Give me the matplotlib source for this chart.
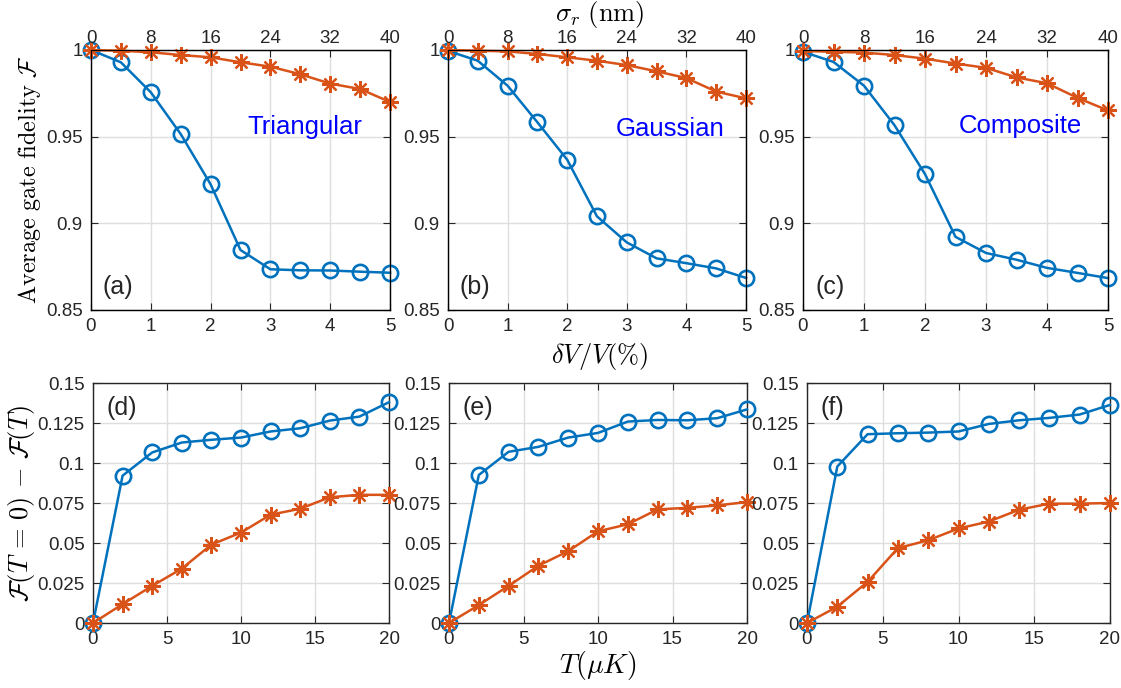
import numpy as np
import matplotlib
matplotlib.use("Agg")
from matplotlib import pyplot as plt

plt.rcParams['font.family'] = ['Liberation Sans', 'DejaVu Sans']
plt.rcParams['mathtext.fontset'] = 'cm'

# data
dV = [0, 0.5, 1, 1.5, 2, 2.5, 3, 3.5, 4, 4.5, 5]
sigma_ticks = [0, 8, 16, 24, 32, 40]
T = [0, 2, 4, 6, 8, 10, 12, 14, 16, 18, 20]

tri_blue = [1.0, 0.9929, 0.9756, 0.9515, 0.9225, 0.8846, 0.8735, 0.8729, 0.8728, 0.8721, 0.8715]
tri_orange = [1.0, 0.9996, 0.9987, 0.9971, 0.9958, 0.9929, 0.9904, 0.9860, 0.9806, 0.9775, 0.9700]
gau_blue = [0.9995, 0.9938, 0.9794, 0.9583, 0.9367, 0.9040, 0.8890, 0.8798, 0.8770, 0.8740, 0.8685]
gau_orange = [1.0, 0.9996, 0.9992, 0.9977, 0.9958, 0.9938, 0.9913, 0.9877, 0.9838, 0.9760, 0.9721]
com_blue = [0.9990, 0.9931, 0.9794, 0.9566, 0.9284, 0.8922, 0.8829, 0.8790, 0.8743, 0.8714, 0.8684]
com_orange = [0.9994, 0.9990, 0.9985, 0.9971, 0.9950, 0.9922, 0.9897, 0.9842, 0.9808, 0.9724, 0.9651]

d_blue = [0.0, 0.0921, 0.1066, 0.1128, 0.1145, 0.1159, 0.1197, 0.1217, 0.1265, 0.1290, 0.1380]
d_orange = [0.0, 0.0118, 0.0232, 0.0340, 0.0490, 0.0565, 0.0677, 0.0714, 0.0786, 0.0801, 0.0801]
e_blue = [0.0, 0.0925, 0.1070, 0.1101, 0.1159, 0.1188, 0.1259, 0.1269, 0.1267, 0.1280, 0.1335]
e_orange = [0.0, 0.0112, 0.0232, 0.0358, 0.0449, 0.0573, 0.0617, 0.0710, 0.0720, 0.0735, 0.0756]
f_blue = [0.0, 0.0978, 0.1180, 0.1186, 0.1190, 0.1197, 0.1244, 0.1267, 0.1282, 0.1303, 0.1363]
f_orange = [0.0, 0.0102, 0.0257, 0.0468, 0.0517, 0.0591, 0.0634, 0.0708, 0.0746, 0.0746, 0.0750]

top_yticks = [0.85, 0.9, 0.95, 1.0]
top_ylabels = ['0.85', '0.9', '0.95', '1']
bot_yticks = [0, 0.025, 0.05, 0.075, 0.1, 0.125, 0.15]
bot_ylabels = ['0', '0.025', '0.05', '0.075', '0.1', '0.125', '0.15']

shapes = ['Triangular', 'Gaussian', 'Composite']
top_tags = ['(a)', '(b)', '(c)']
bot_tags = ['(d)', '(e)', '(f)']

BLUE = '#0072BD'
ORANGE = '#D95319'
DARK = '#262626'

W, H = 1121, 688
fig = plt.figure(figsize=(W / 100, H / 100), dpi=100)


def px_axes(l, r, t, b):
    return fig.add_axes([l / W, (H - b) / H, (r - l) / W, (b - t) / H])


def style(ax):
    ax.grid(True, color='#dedede', linewidth=1.0)
    ax.set_axisbelow(True)
    for s in ax.spines.values():
        s.set_color(DARK)
        s.set_linewidth(1.0)
    ax.tick_params(direction='in', length=5, width=0.8, colors=DARK,
                   labelsize=13.5, top=True, right=True, pad=6)


def draw(ax, x, blue, orange):
    ax.plot(x, blue, '-', color=BLUE, lw=1.8, marker='o', ms=11,
            mfc='none', mec=BLUE, mew=1.9, clip_on=False, zorder=3)
    ax.plot(x, orange, '-', color=ORANGE, lw=1.8, marker=(8, 2, 0), ms=12,
            mec=ORANGE, mew=1.6, clip_on=False, zorder=4)


top_boxes = [(91, 390), (448, 746), (803, 1108)]
bot_boxes = [(93, 389), (449, 747), (807, 1110)]
top_data = [(tri_blue, tri_orange), (gau_blue, gau_orange), (com_blue, com_orange)]
bot_data = [(d_blue, d_orange), (e_blue, e_orange), (f_blue, f_orange)]
label_xy = [(3.58, 0.9556), (3.72, 0.9544), (3.56, 0.956)]

for i in range(3):
    l, r = top_boxes[i]
    ax = px_axes(l, r, 50, 310)
    style(ax)
    draw(ax, dV, *top_data[i])
    ax.set_xlim(0, 5)
    ax.set_ylim(0.85, 1.0)
    ax.set_xticks(range(6))
    ax.set_yticks(top_yticks)
    ax.set_yticklabels(top_ylabels)
    ax.tick_params(top=False)
    ax2 = ax.twiny()
    ax2.set_xlim(0, 40)
    ax2.set_xticks(sigma_ticks)
    ax2.tick_params(direction='in', length=5, width=0.8, colors=DARK,
                    labelsize=13.5, pad=2)
    ax.text(0.2, 0.863, top_tags[i], fontsize=18, color=DARK, va='center')
    ax.text(label_xy[i][0], label_xy[i][1], shapes[i], fontsize=18.5,
            color='#0000FF', ha='center', va='center')
    if i == 0:
        ax.set_ylabel(r'$\mathrm{Average\ gate\ fidelity}\ \mathcal{F}$',
                      fontsize=17.5, labelpad=2)

    l, r = bot_boxes[i]
    bx = px_axes(l, r, 383, 623)
    style(bx)
    draw(bx, T, *bot_data[i])
    bx.set_xlim(0, 20)
    bx.set_ylim(0, 0.15)
    bx.set_xticks([0, 5, 10, 15, 20])
    bx.set_yticks(bot_yticks)
    bx.set_yticklabels(bot_ylabels)
    bx.text(0.9, 0.1344, bot_tags[i], fontsize=18, color=DARK, va='center')
    if i == 0:
        bx.set_ylabel(r'$\mathcal{F}(T\,=\,0)\,-\,\mathcal{F}(T)$', fontsize=19,
                      labelpad=0)

fig.text(600 / W, 1 - 15 / H, r'$\sigma_r\ \mathrm{(nm)}$', fontsize=19,
         ha='center', va='center')
fig.text(600 / W, 1 - 356 / H, r'$\delta V/V(\%)$', fontsize=19,
         ha='center', va='center')
fig.text(598 / W, 1 - 665 / H, r'$T(\mu K)$', fontsize=20,
         ha='center', va='center')

fig.savefig('out.png', dpi=100)
